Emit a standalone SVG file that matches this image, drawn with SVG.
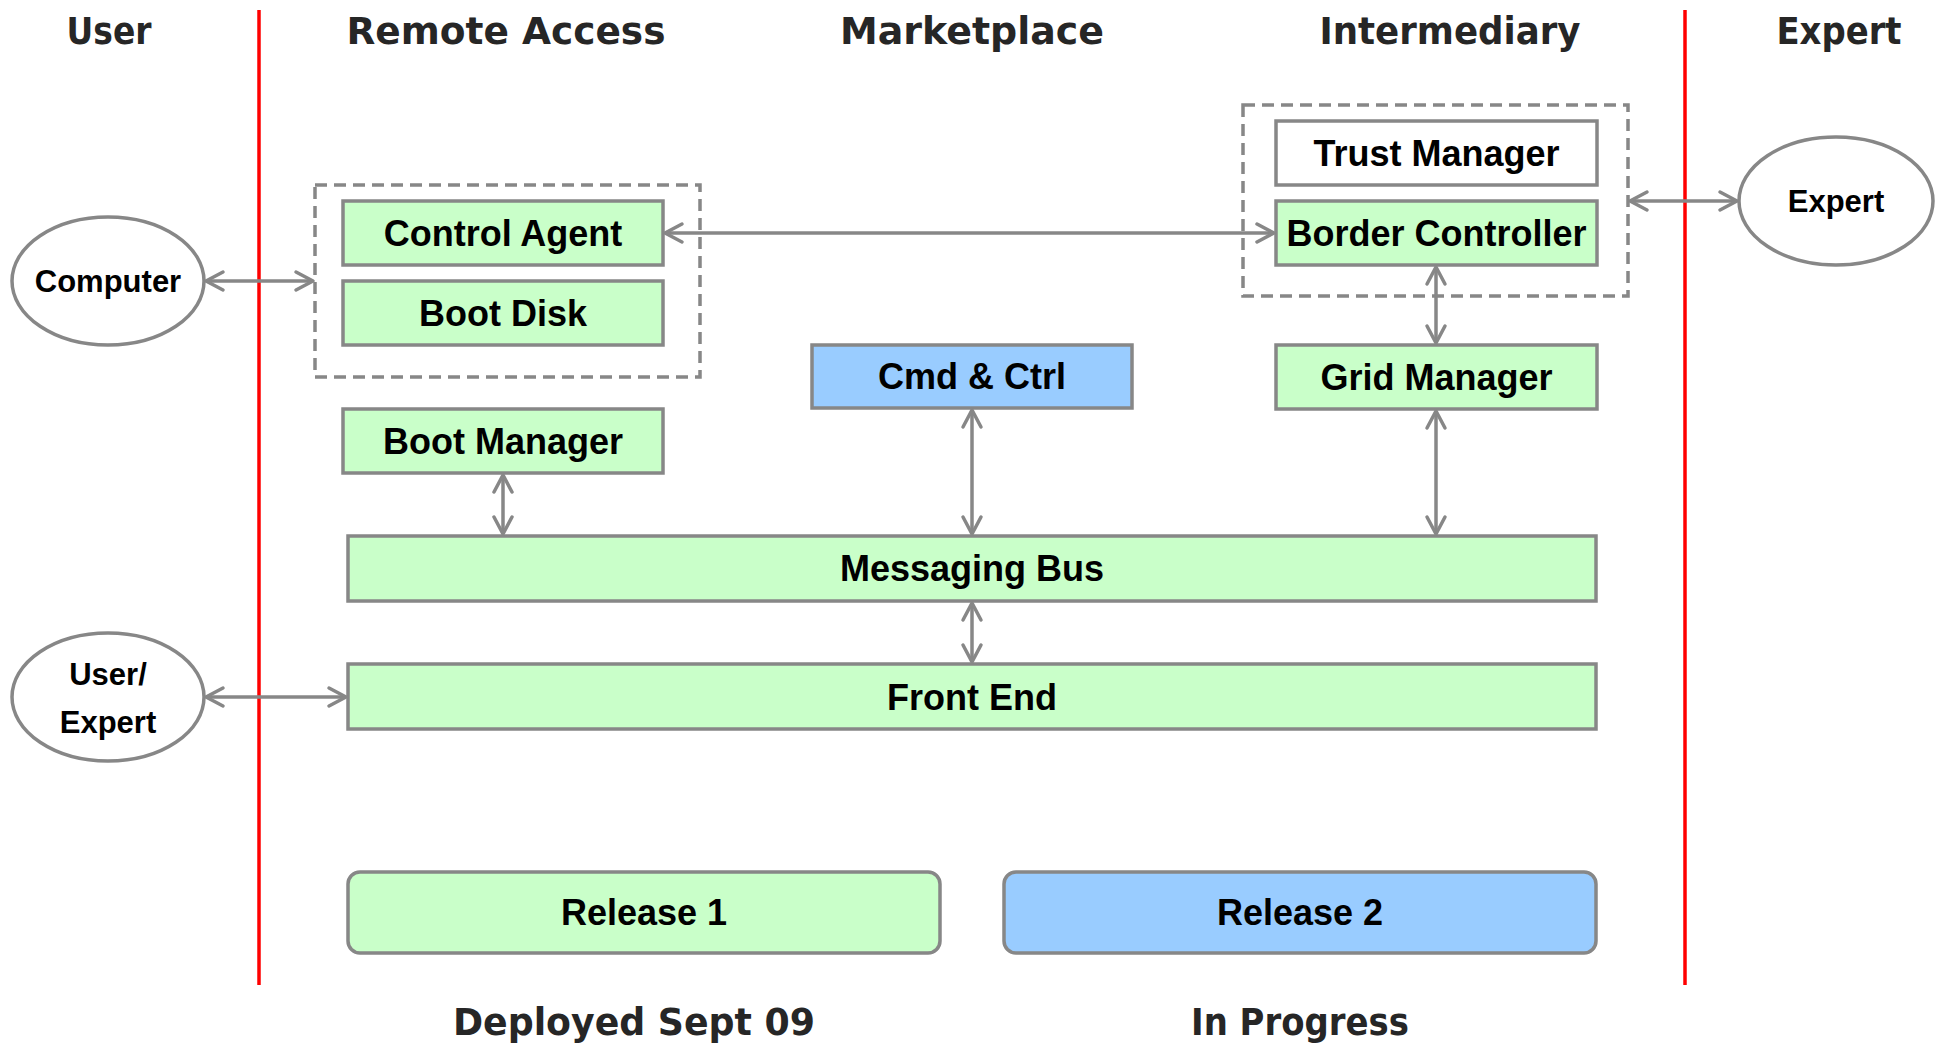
<svg xmlns="http://www.w3.org/2000/svg" width="1951" height="1047" viewBox="0 0 1951 1047">
<style>
.title{font-family:"DejaVu Sans","Liberation Sans",sans-serif;font-weight:bold;font-size:37px;fill:#262626;text-anchor:middle}
.lbl{font-family:"Liberation Sans",Arial,sans-serif;font-weight:bold;font-size:36px;fill:#000;text-anchor:middle}
.elbl{font-family:"Liberation Sans",Arial,sans-serif;font-weight:bold;font-size:31px;fill:#000;text-anchor:middle}
.box{stroke:#878787;stroke-width:3.5}
.green{fill:#c9ffc9}
.blue{fill:#99ccff}
.white{fill:#ffffff}
.dash{fill:none;stroke:#878787;stroke-width:3.5;stroke-dasharray:12 7}
.ell{fill:#fff;stroke:#878787;stroke-width:3.5}
.lane{stroke:#ff0000;stroke-width:3.5}
.conn{fill:none;stroke:#878787;stroke-width:3.5;marker-start:url(#arr);marker-end:url(#arr)}
</style>
<defs>
<marker id="arr" viewBox="-21 -12 24 24" refX="0" refY="0" markerWidth="24" markerHeight="24" markerUnits="userSpaceOnUse" orient="auto-start-reverse">
<path d="M-17,-9 L0,0 L-17,9" fill="none" stroke="#878787" stroke-width="3.5" stroke-linecap="round" stroke-linejoin="round"/>
</marker>
</defs>
<rect width="1951" height="1047" fill="#ffffff"/>

<g id="lanes">
<line class="lane" x1="259" y1="10" x2="259" y2="985"/>
<line class="lane" x1="1685" y1="10" x2="1685" y2="985"/>
<text class="title" x="109" y="44" textLength="85" lengthAdjust="spacingAndGlyphs">User</text>
<text class="title" x="506" y="44" textLength="319" lengthAdjust="spacingAndGlyphs">Remote Access</text>
<text class="title" x="972" y="44" textLength="264" lengthAdjust="spacingAndGlyphs">Marketplace</text>
<text class="title" x="1450" y="44" textLength="261" lengthAdjust="spacingAndGlyphs">Intermediary</text>
<text class="title" x="1839" y="44" textLength="125" lengthAdjust="spacingAndGlyphs">Expert</text>
</g>

<g id="group-remote">
<rect class="dash" x="315" y="185" width="385" height="192"/>
</g>
<g id="group-intermediary">
<rect class="dash" x="1243" y="105" width="385" height="191"/>
</g>

<g id="computer">
<ellipse class="ell" cx="108" cy="281" rx="96" ry="64"/>
<text class="elbl" x="108" y="292">Computer</text>
</g>
<g id="user-expert">
<ellipse class="ell" cx="108" cy="697" rx="96" ry="64"/>
<text class="elbl" x="108" y="685">User/</text>
<text class="elbl" x="108" y="733">Expert</text>
</g>
<g id="expert">
<ellipse class="ell" cx="1836" cy="201" rx="97" ry="64"/>
<text class="elbl" x="1836" y="212">Expert</text>
</g>

<g id="control-agent">
<rect class="box green" x="343" y="201" width="320" height="64"/>
<text class="lbl" x="503" y="246">Control Agent</text>
</g>
<g id="boot-disk">
<rect class="box green" x="343" y="281" width="320" height="64"/>
<text class="lbl" x="503" y="326">Boot Disk</text>
</g>
<g id="boot-manager">
<rect class="box green" x="343" y="409" width="320" height="64"/>
<text class="lbl" x="503" y="454">Boot Manager</text>
</g>
<g id="cmd-ctrl">
<rect class="box blue" x="812" y="345" width="320" height="63"/>
<text class="lbl" x="972" y="389">Cmd &amp; Ctrl</text>
</g>
<g id="trust-manager">
<rect class="box white" x="1276" y="121" width="321" height="64"/>
<text class="lbl" x="1436.5" y="166">Trust Manager</text>
</g>
<g id="border-controller">
<rect class="box green" x="1276" y="201" width="321" height="64"/>
<text class="lbl" x="1436.5" y="246">Border Controller</text>
</g>
<g id="grid-manager">
<rect class="box green" x="1276" y="345" width="321" height="64"/>
<text class="lbl" x="1436.5" y="390">Grid Manager</text>
</g>
<g id="messaging-bus">
<rect class="box green" x="348" y="536" width="1248" height="65"/>
<text class="lbl" x="972" y="581">Messaging Bus</text>
</g>
<g id="front-end">
<rect class="box green" x="348" y="664" width="1248" height="65"/>
<text class="lbl" x="972" y="710">Front End</text>
</g>

<g id="release-1">
<rect class="box green" x="348" y="872" width="592" height="81" rx="12"/>
<text class="lbl" x="644" y="925">Release 1</text>
<text class="title" x="634" y="1035" font-size="39" textLength="362" lengthAdjust="spacingAndGlyphs">Deployed Sept 09</text>
</g>
<g id="release-2">
<rect class="box blue" x="1004" y="872" width="592" height="81" rx="12"/>
<text class="lbl" x="1300" y="925">Release 2</text>
<text class="title" x="1300" y="1035" font-size="39" textLength="218" lengthAdjust="spacingAndGlyphs">In Progress</text>
</g>

<g id="connectors">
<path class="conn" d="M206,281 H313"/>
<path class="conn" d="M665,233 H1274"/>
<path class="conn" d="M1630,201 H1737"/>
<path class="conn" d="M1436,267 V343"/>
<path class="conn" d="M972,410 V534"/>
<path class="conn" d="M1436,411 V534"/>
<path class="conn" d="M503,475 V534"/>
<path class="conn" d="M972,603 V662"/>
<path class="conn" d="M206,697 H346"/>
</g>
</svg>
